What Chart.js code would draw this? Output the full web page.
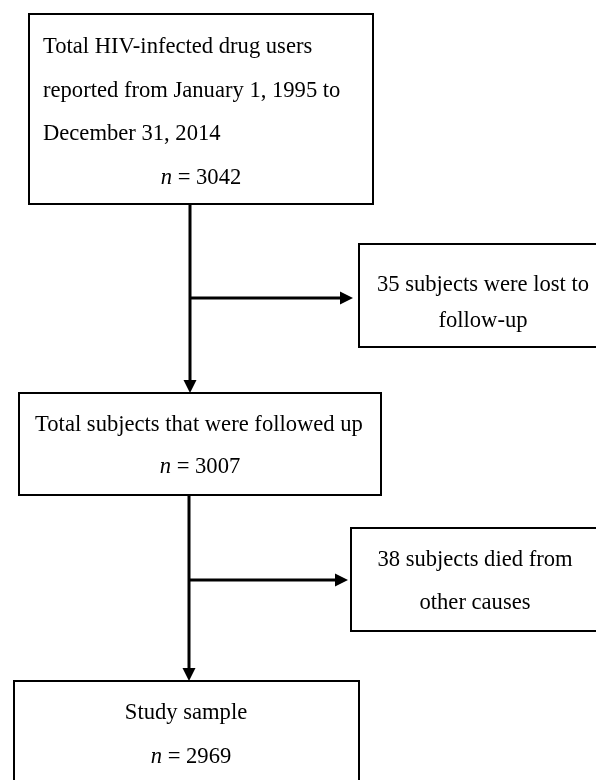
<!DOCTYPE html>
<html>
<head>
<meta charset="utf-8">
<script src="https://cdn.jsdelivr.net/npm/chart.js@4/dist/chart.umd.min.js"></script>
<style>
  body { margin: 0; background: #fff; }
  #flow { display: block; }
</style>
</head>
<body>
<canvas id="flow" width="596" height="780"></canvas>
<script>
// counts at each step of the cohort
const stageCounts = [3042, 3007, 2969];
const excludedCounts = [35, 38];

const stageLines = [
  ["Total HIV-infected drug users", "reported from January 1, 1995 to", "December 31, 2014"],
  ["Total subjects that were followed up"],
  ["Study sample"]
];
const excludedLines = [
  [excludedCounts[0] + " subjects were lost to", "follow-up"],
  [excludedCounts[1] + " subjects died from", "other causes"]
];

// box geometry in chart units (x: 0-596, y: 0-780 top down)
const stageBoxes = [
  { x0: 29, y0: 14, x1: 373, y1: 204, textX: 43, align: "left", baselines: [53, 97, 140], nX: 201, nY: 184 },
  { x0: 19, y0: 393, x1: 381, y1: 495, textX: 199, align: "center", baselines: [431], nX: 200, nY: 473 },
  { x0: 14, y0: 681, x1: 359, y1: 800, textX: 186, align: "center", baselines: [719], nX: 191, nY: 763 }
];
const excludedBoxes = [
  { x0: 359, y0: 244, x1: 597, y1: 347, textX: 483, baselines: [291, 327] },
  { x0: 351, y0: 528, x1: 597, y1: 631, textX: 475, baselines: [566, 609] }
];
const trunks = [
  { x: 190, y0: 204, y1: 393, branchY: 298, branchX: 353 },
  { x: 189, y0: 495, y1: 681, branchY: 580, branchX: 348 }
];

const FONT = '"Liberation Serif", "Times New Roman", serif';
const SIZE = 22.6;

const flowPlugin = {
  id: "flow",
  afterDraw(chart) {
    const ctx = chart.ctx;
    const sx = chart.scales.x, sy = chart.scales.y;
    const px = v => sx.getPixelForValue(v);
    const py = v => sy.getPixelForValue(v);
    ctx.save();
    ctx.fillStyle = "#000";
    ctx.strokeStyle = "#000";

    const box = b => {
      ctx.lineWidth = 2;
      ctx.strokeRect(px(b.x0), py(b.y0), px(b.x1) - px(b.x0), py(b.y1) - py(b.y0));
    };
    const nText = (count, cx, cy) => {
      ctx.textAlign = "left";
      ctx.font = "italic " + SIZE + "px " + FONT;
      const wn = ctx.measureText("n").width;
      ctx.font = SIZE + "px " + FONT;
      const rest = " = " + count;
      const wr = ctx.measureText(rest).width;
      const left = px(cx) - (wn + wr) / 2;
      ctx.font = "italic " + SIZE + "px " + FONT;
      ctx.fillText("n", left, py(cy));
      ctx.font = SIZE + "px " + FONT;
      ctx.fillText(rest, left + wn, py(cy));
    };

    stageBoxes.forEach((b, i) => {
      box(b);
      ctx.font = SIZE + "px " + FONT;
      ctx.textAlign = b.align;
      ctx.textBaseline = "alphabetic";
      stageLines[i].forEach((t, j) => ctx.fillText(t, px(b.textX), py(b.baselines[j])));
      nText(stageCounts[i], b.nX, b.nY);
    });

    excludedBoxes.forEach((b, i) => {
      box(b);
      ctx.font = SIZE + "px " + FONT;
      ctx.textAlign = "center";
      excludedLines[i].forEach((t, j) => ctx.fillText(t, px(b.textX), py(b.baselines[j])));
    });

    // connectors with arrow heads
    const head = 13, half = 6.5;
    trunks.forEach(t => {
      ctx.lineWidth = 3;
      ctx.beginPath();
      ctx.moveTo(px(t.x), py(t.y0));
      ctx.lineTo(px(t.x), py(t.y1) - head);
      ctx.moveTo(px(t.x), py(t.branchY));
      ctx.lineTo(px(t.branchX) - head, py(t.branchY));
      ctx.stroke();
      ctx.beginPath();
      ctx.moveTo(px(t.x), py(t.y1));
      ctx.lineTo(px(t.x) - half, py(t.y1) - head);
      ctx.lineTo(px(t.x) + half, py(t.y1) - head);
      ctx.closePath();
      ctx.fill();
      ctx.beginPath();
      ctx.moveTo(px(t.branchX), py(t.branchY));
      ctx.lineTo(px(t.branchX) - head, py(t.branchY) - half);
      ctx.lineTo(px(t.branchX) - head, py(t.branchY) + half);
      ctx.closePath();
      ctx.fill();
    });
    ctx.restore();
  }
};

new Chart(document.getElementById("flow"), {
  type: "scatter",
  data: {
    datasets: [{
      data: stageBoxes.map((b, i) => ({ x: (b.x0 + b.x1) / 2, y: (b.y0 + b.y1) / 2, n: stageCounts[i] })),
      pointRadius: 0
    }]
  },
  options: {
    responsive: false,
    animation: false,
    layout: { padding: 0 },
    plugins: { legend: { display: false }, tooltip: { enabled: false } },
    scales: {
      x: { type: "linear", min: 0, max: 596, display: false },
      y: { type: "linear", min: 0, max: 780, reverse: true, display: false }
    }
  },
  plugins: [flowPlugin]
});
</script>
</body>
</html>
